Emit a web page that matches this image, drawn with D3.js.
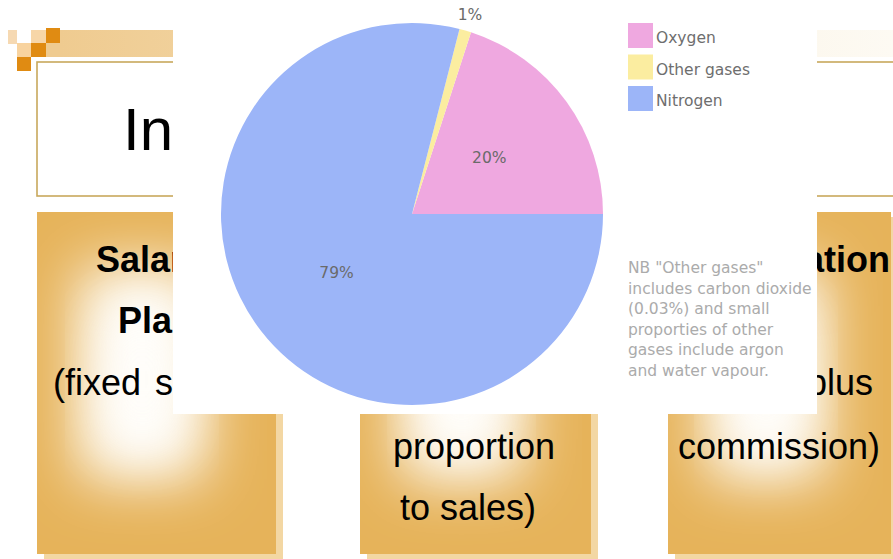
<!DOCTYPE html>
<html>
<head>
<meta charset="utf-8">
<script src="https://cdn.jsdelivr.net/npm/d3@7"></script>
<style>
html,body{margin:0;padding:0;background:#fff;overflow:hidden;}
svg{display:block;}
</style>
</head>
<body>
<svg id="chart" width="893" height="559"></svg>
<script>
// ---- data ----
const categories = ["Oxygen", "Other gases", "Nitrogen"];
const values = [20, 1, 79];
const valueLabels = ["20%", "1%", "79%"];
const sliceColors = ["#efa8e0", "#fbeda0", "#9cb5f8"];
const noteLines = [
  'NB "Other gases"',
  "includes carbon dioxide",
  "(0.03%) and small",
  "proporties of other",
  "gases include argon",
  "and water vapour."
];
// slide text visible around the chart panel (the rest is covered by it)
const slideTitle = "Inc";
const boxTexts = [
  [{t:"Salar", b:true, x:96, y:272, a:"start"}, {t:"Plan", b:true, x:118, y:333, a:"start"}, {t:"(fixed sa", b:false, x:53, y:395, a:"start"}],
  [{t:"proportion", b:false, x:393, y:459, a:"start"}, {t:"to sales)", b:false, x:400, y:520, a:"start"}],
  [{t:"ation", b:true, x:890, y:272, a:"end"}, {t:"plus", b:false, x:873, y:395, a:"end"}, {t:"commission)", b:false, x:678, y:459, a:"start"}]
];

const W = 893, H = 559;
const svg = d3.select("#chart");
const defs = svg.append("defs");

// clip that hides everything under the chart panel
const panel = {x:173, y:0, w:644, h:414};
const outside = defs.append("clipPath").attr("id","outside");
outside.append("path").attr("clip-rule","evenodd")
  .attr("d",`M0,0H${W}V${H}H0Z M${panel.x},${panel.y}h${panel.w}v${panel.h}h${-panel.w}Z`);

// ---- slide background ----
const bg = svg.append("g");
const bandGrad = defs.append("linearGradient").attr("id","band").attr("x1","0").attr("x2","1");
bandGrad.append("stop").attr("offset","0").attr("stop-color","#efcb90");
bandGrad.append("stop").attr("offset","0.3").attr("stop-color","#f2d6a6");
bandGrad.append("stop").attr("offset","0.85").attr("stop-color","#fcf7ec");
bandGrad.append("stop").attr("offset","1").attr("stop-color","#fdfaf3");
bg.append("rect").attr("x",60).attr("y",30).attr("width",W-60).attr("height",27).attr("fill","url(#band)");
bg.append("rect").attr("x",46).attr("y",43).attr("width",14).attr("height",14).attr("fill","#efcb90");

const sq = [
  {x:8,y:30,w:9,h:14,c:"#f6d9b2"},
  {x:31,y:30,w:15,h:14,c:"#f7d6a8"},
  {x:46,y:28,w:14,h:15,c:"#e08b12"},
  {x:17,y:43,w:14,h:14,c:"#f8d39f"},
  {x:31,y:43,w:15,h:14,c:"#e08b12"},
  {x:17,y:57,w:14,h:14,c:"#e08b12"}
];
bg.selectAll("rect.sq").data(sq).enter().append("rect").attr("class","sq")
  .attr("x",d=>d.x).attr("y",d=>d.y).attr("width",d=>d.w).attr("height",d=>d.h).attr("fill",d=>d.c);

// title box
bg.append("rect").attr("x",37).attr("y",62).attr("width",W).attr("height",134)
  .attr("fill","#ffffff").attr("stroke","#c8a85c").attr("stroke-width",1.6);
bg.append("text").attr("x",123).attr("y",150).attr("clip-path","url(#outside)")
  .attr("font-family","Liberation Sans, Arial, sans-serif")
  .attr("font-size",60).attr("fill","#000").text(slideTitle);

// gold boxes
const boxes = [
  {x:37, y:212, w:239, h:342},
  {x:360, y:212, w:231, h:342},
  {x:668, y:212, w:223, h:342}
];
const blur = defs.append("filter").attr("id","glow").attr("x","-50%").attr("y","-50%").attr("width","200%").attr("height","200%");
blur.append("feGaussianBlur").attr("stdDeviation",30);

boxes.forEach((b,i)=>{
  bg.append("rect").attr("x",b.x+7).attr("y",b.y+5).attr("width",b.w).attr("height",b.h).attr("fill","#f3d7a3");
  const cp = defs.append("clipPath").attr("id","clip"+i);
  cp.append("rect").attr("x",b.x).attr("y",b.y).attr("width",b.w).attr("height",b.h);
  const g = bg.append("g").attr("clip-path","url(#clip"+i+")");
  g.append("rect").attr("x",b.x).attr("y",b.y).attr("width",b.w).attr("height",b.h).attr("fill","#e6b35a");
  g.append("rect").attr("x",b.x+b.w*0.18).attr("y",b.y+b.h*0.16).attr("width",b.w*0.52).attr("height",b.h*0.62)
    .attr("fill","#ffffff").attr("filter","url(#glow)");
  g.append("rect").attr("x",b.x+b.w*0.28).attr("y",b.y+b.h*0.3).attr("width",b.w*0.32).attr("height",b.h*0.38)
    .attr("fill","#fffdf8").attr("opacity",0.8).attr("filter","url(#glow)");
  boxTexts[i].forEach(ln=>{
    bg.append("text").attr("x",ln.x).attr("y",ln.y).attr("clip-path","url(#outside)")
      .attr("text-anchor",ln.a)
      .attr("font-family","Liberation Sans, Arial, sans-serif").attr("font-size",36)
      .attr("font-weight",ln.b?"bold":"normal").attr("word-spacing",i===0&&ln.y===395?4:0)
      .attr("fill","#000").text(ln.t);
  });
});

// ---- chart panel ----
svg.append("rect").attr("x",panel.x).attr("y",panel.y).attr("width",panel.w).attr("height",panel.h).attr("fill","#ffffff");

const cx = 412, cy = 214, r = 191;
const pie = d3.pie().sort(null).value(d=>d)
  .startAngle(Math.PI/2).endAngle(Math.PI/2 - 2*Math.PI);
const arcs = pie(values);
const arc = d3.arc().innerRadius(0).outerRadius(r);
const color = d3.scaleOrdinal().domain(categories).range(sliceColors);

const pg = svg.append("g").attr("transform",`translate(${cx},${cy})`);
pg.selectAll("path").data(arcs).enter().append("path")
  .attr("d",arc).attr("fill",(d,i)=>color(categories[i]));

const outerArc = d3.arc().innerRadius(r+17).outerRadius(r+17);
pg.selectAll("text").data(arcs).enter().append("text")
  .attr("transform",(d,i)=>{
    const p = values[i] < 5 ? outerArc.centroid(d) : arc.centroid(d);
    return `translate(${p[0]},${p[1]})`;
  })
  .attr("text-anchor","middle").attr("dy","0.36em")
  .attr("font-family","DejaVu Sans, Verdana, sans-serif").attr("font-size",15.5)
  .attr("fill","#6a6a6a").text((d,i)=>valueLabels[i]);

// legend
const lg = svg.append("g").attr("transform","translate(628,23)");
const li = lg.selectAll("g").data(categories).enter().append("g")
  .attr("transform",(d,i)=>`translate(0,${i*31.5})`);
li.append("rect").attr("width",25).attr("height",25).attr("fill",d=>color(d));
li.append("text").attr("x",28).attr("y",20).attr("font-family","DejaVu Sans, Verdana, sans-serif")
  .attr("font-size",15.5).attr("fill","#6e6e6e").text(d=>d);

// note
svg.append("g").selectAll("text").data(noteLines).enter().append("text")
  .attr("x",628).attr("y",(d,i)=>273 + i*20.6)
  .attr("font-family","DejaVu Sans, Verdana, sans-serif").attr("font-size",15.5)
  .attr("fill","#ababab").text(d=>d);
</script>
</body>
</html>
